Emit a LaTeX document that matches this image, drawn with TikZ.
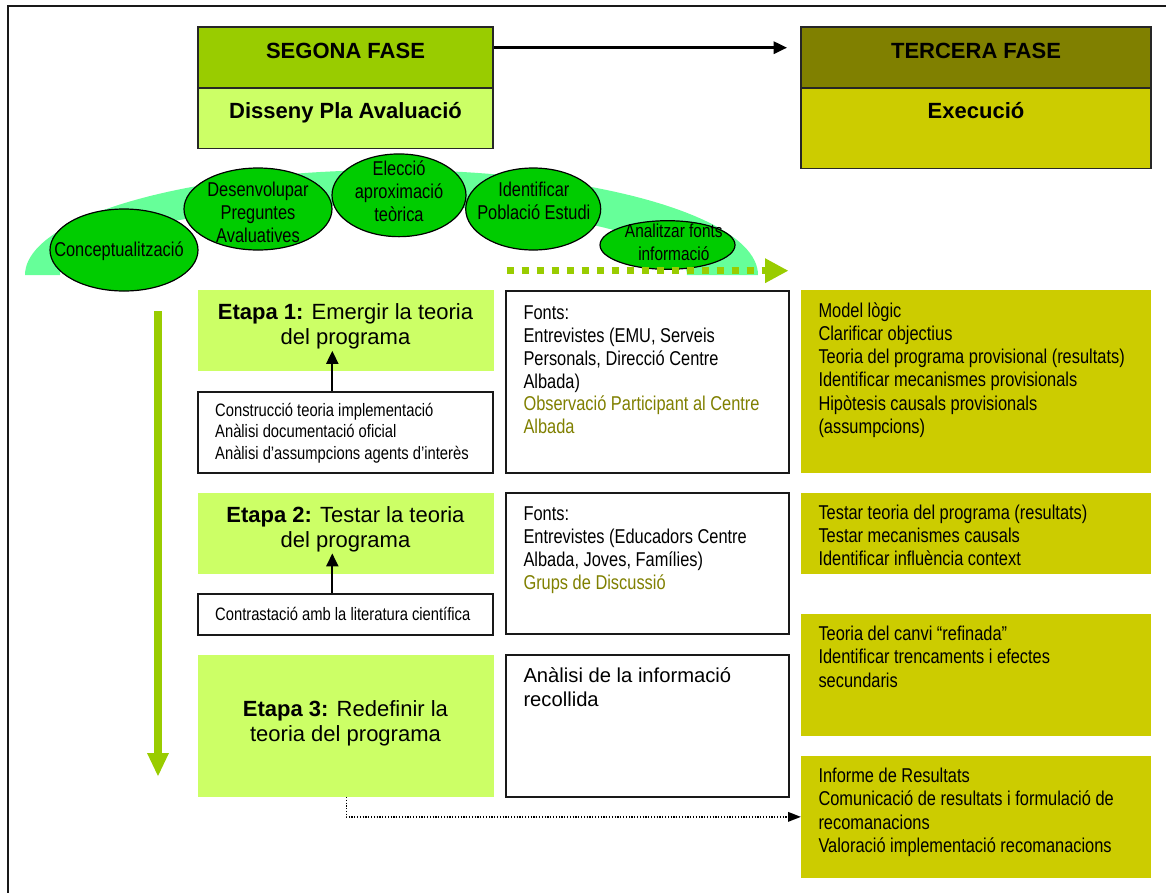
\documentclass[tikz,border=0pt]{standalone}
\usepackage{fontspec}
\setmainfont{Liberation Sans}
\newfontfamily\narrowfont[FakeStretch=0.82]{Liberation Sans}
\usetikzlibrary{arrows.meta,shapes.geometric}

\definecolor{segtop}{HTML}{99CC00}
\definecolor{segbot}{HTML}{CCFF66}
\definecolor{tertop}{HTML}{808000}
\definecolor{terbot}{HTML}{CCCC00}
\definecolor{swooshgreen}{HTML}{66FF99}
\definecolor{ovalgreen}{HTML}{00CC00}
\definecolor{flowgreen}{HTML}{99CC00}
\definecolor{olivetext}{HTML}{808000}

% font settings
\newcommand{\fHead}{\bfseries\fontsize{22}{26}\selectfont}
\newcommand{\fOval}{\narrowfont\fontsize{20}{23}\selectfont}
\newcommand{\fOvalS}{\narrowfont\fontsize{18.8}{22.7}\selectfont}
\newcommand{\fEtapa}{\fontsize{22}{25.3}\selectfont}
\newcommand{\fSmall}{\narrowfont\fontsize{18}{21.2}\selectfont}
\newcommand{\fMid}{\narrowfont\fontsize{20}{22.9}\selectfont}
\newcommand{\fMidW}{\fontsize{20.2}{23.3}\selectfont}
\newcommand{\fSide}{\narrowfont\fontsize{20}{23.2}\selectfont}

% multi-line text blocks whose baseline is the first line
\newcommand{\txtc}[1]{\parbox[t]{360pt}{\centering #1}}
\newcommand{\txtl}[1]{\parbox[t]{360pt}{\raggedright #1}}

\begin{document}
\begin{tikzpicture}[x=1pt,y=-1pt,
  phase/.style={draw=black!85, line width=1.3pt, inner sep=0pt},
  oval/.style={ellipse, draw=black, line width=1.2pt, fill=ovalgreen, inner sep=0pt},
  etapa/.style={fill=segbot, inner sep=0pt, minimum width=295.7},
  wbox/.style={draw=black!90, line width=1.8pt, fill=white, inner sep=0pt},
  rbox/.style={fill=terbot, inner sep=0pt, minimum width=350},
  ctxt/.style={inner sep=0pt, anchor=base},
  ltxt/.style={inner sep=0pt, anchor=base west},
  uparrow/.style={draw=black, line width=2pt, -{Triangle[length=13pt,width=12pt]}},
  flowarrow/.style={draw=flowgreen, line width=7.5pt, -{Triangle[length=23pt,width=22pt,line width=0pt]}},
  dotflow/.style={draw=flowgreen, line width=7pt, dash pattern=on 7pt off 8pt, -{Triangle[length=23pt,width=25pt,line width=0pt]}},
  dotconn/.style={draw=black, line width=1.3pt, dash pattern=on 1.2pt off 1.6pt, -{Triangle[length=12.7pt,width=10pt,line width=0pt]}}
]
\useasboundingbox (0,0) rectangle (1166,892);
\clip (0,0) rectangle (1166,892);

% outer frame
\draw[line width=2pt, black!90] (1180,6) -- (8,6) -- (8,900);

% phase headers
\node[phase, fill=segtop, minimum width=295, minimum height=61] (seg) at (345.5,57.5) {};
\node[phase, fill=segbot, minimum width=295, minimum height=60.3] (segsub) at (345.5,118.15) {};
\node[phase, fill=tertop, minimum width=350, minimum height=61] (ter) at (976,57.5) {};
\node[phase, fill=terbot, minimum width=350, minimum height=80.7] (tersub) at (976,128.35) {};
\node[ctxt, font=\fHead] (segT) at (345.5,58.3) {SEGONA FASE};
\node[ctxt, font=\fHead] (segS) at (345.5,118.3) {Disseny Pla Avaluació};
\node[ctxt, font=\fHead] (terT) at (976,58.3) {TERCERA FASE};
\node[ctxt, font=\fHead] (terS) at (976,118.3) {Execució};

\draw[line width=3pt, -{Triangle[length=13.5pt,width=12pt]}]
  ([yshift=9.8pt]seg.east) -- ([xshift=-13.2pt,yshift=9.8pt]ter.west);

% crescent band behind the activities
\fill[swooshgreen]
  plot[domain=180:0, samples=90, variable=\t] ({391.5+366.5*cos(\t)},{275-105*sin(\t)})
  -- plot[domain=0:180, samples=90, variable=\t] ({373.5+313.5*cos(\t)},{275-70*sin(\t)})
  -- cycle;

% activities
\node[oval, minimum width=148, minimum height=82] (conc) at (124,250) {};
\node[oval, minimum width=148, minimum height=82] (desv) at (258,209) {};
\node[oval, minimum width=134, minimum height=82.7] (elec) at (399,195.3) {};
\node[oval, minimum width=135, minimum height=82] (iden) at (533.2,209) {};
\node[oval, minimum width=135, minimum height=48.6] (anal) at (667.5,245) {};
\node[ctxt, font=\fOval] (concT) at (119,256.7) {Conceptualització};
\node[ctxt, font=\fOval] (desvT) at (258,196) {\txtc{Desenvolupar\\Preguntes\\Avaluatives}};
\node[ctxt, font=\fOval] (elecT) at (399,175.7) {\txtc{Elecció\\aproximació\\teòrica}};
\node[ctxt, font=\fOval] (idenT) at (533.8,196.5) {\txtc{Identificar\\Població Estudi}};
\node[ctxt, font=\fOvalS] (analT) at (673.8,237.3) {\txtc{Analitzar fonts\\informació}};

% green flow arrows
\coordinate (dotS) at (506.7,270.7);
\coordinate (dotE) at (788,270.7);
\draw[dotflow] (dotS) -- (dotE);
\coordinate (flowS) at (158,311);
\coordinate (flowE) at (158,776);
\draw[flowarrow] (flowS) -- (flowE);

% stages
\node[etapa, minimum height=80.7] (e1) at (346.15,330.35) {};
\node[etapa, minimum height=80.7] (e2) at (346.15,533.65) {};
\node[etapa, minimum height=141.7] (e3) at (346.15,725.85) {};
\node[ctxt, font=\fEtapa] (e1T) at (345.5,319.3) {\txtc{\textbf{Etapa 1:} Emergir la teoria\\del programa}};
\node[ctxt, font=\fEtapa] (e2T) at (345.5,522.3) {\txtc{\textbf{Etapa 2:} Testar la teoria\\del programa}};
\node[ctxt, font=\fEtapa] (e3T) at (345.5,716) {\txtc{\textbf{Etapa 3:} Redefinir la\\teoria del programa}};

\node[wbox, minimum width=295.6, minimum height=81] (sb1) at (345.5,432.2) {};
\node[wbox, minimum width=295.6, minimum height=41] (sb2) at (345.5,614.5) {};
\node[ltxt, font=\fSmall] (sb1T) at (215,416.7) {\txtl{Construcció teoria implementació\\Anàlisi documentació oficial\\Anàlisi d’assumpcions agents d’interès}};
\node[ltxt, font=\fSmall] (sb2T) at (215,620) {Contrastació amb la literatura científica};
\draw[uparrow] ([xshift=-13.2pt]sb1.north) -- ++(0,-40);
\draw[uparrow] ([xshift=-13.2pt]sb2.north) -- ++(0,-39.7);

% sources
\node[wbox, minimum width=283, minimum height=182] (m1) at (647.5,381.7) {};
\node[wbox, minimum width=283, minimum height=140.7] (m2) at (647.5,563.65) {};
\node[wbox, minimum width=283, minimum height=141.7] (m3) at (647.5,725.85) {};
\node[ltxt, font=\fMid] (m1T) at (523.3,319.3) {\txtl{Fonts:\\Entrevistes (EMU, Serveis\\Personals, Direcció Centre\\Albada)\\{\color{olivetext}Observació Participant al Centre\\Albada}}};
\node[ltxt, font=\fMid] (m2T) at (523.3,520.7) {\txtl{Fonts:\\Entrevistes (Educadors Centre\\Albada, Joves, Famílies)\\{\color{olivetext}Grups de Discussió}}};
\node[ltxt, font=\fMidW] (m3T) at (523.3,682.7) {\txtl{Anàlisi de la informació\\recollida}};

% results
\node[rbox, minimum height=182.7] (r1) at (976,381.35) {};
\node[rbox, minimum height=80.7] (r2) at (976,533.65) {};
\node[rbox, minimum height=121.7] (r3) at (976,674.85) {};
\node[rbox, minimum height=121.7] (r4) at (976,816.85) {};
\node[ltxt, font=\fSide] (r1T) at (818.3,317.3) {\txtl{Model lògic\\Clarificar objectius\\Teoria del programa provisional (resultats)\\Identificar mecanismes provisionals\\Hipòtesis causals provisionals\\(assumpcions)}};
\begin{scope}
  \clip (r2.north west) rectangle ([yshift=9.2pt]r2.south east);
  \node[ltxt, font=\fSide] (r2T) at (818.3,519.3) {\txtl{Testar teoria del programa (resultats)\\Testar mecanismes causals\\Identificar influència context}};
\end{scope}
\node[ltxt, font=\fSide] (r3T) at (818.3,640.7) {\txtl{Teoria del canvi “refinada”\\Identificar trencaments i efectes\\secundaris}};
\node[ltxt, font=\fSide] (r4T) at (818.3,782.7) {\txtl{Informe de Resultats\\Comunicació de resultats i formulació de\\recomanacions\\Valoració implementació recomanacions}};

\draw[dotconn] (e3.south) |- (r4.west);
\end{tikzpicture}
\end{document}
